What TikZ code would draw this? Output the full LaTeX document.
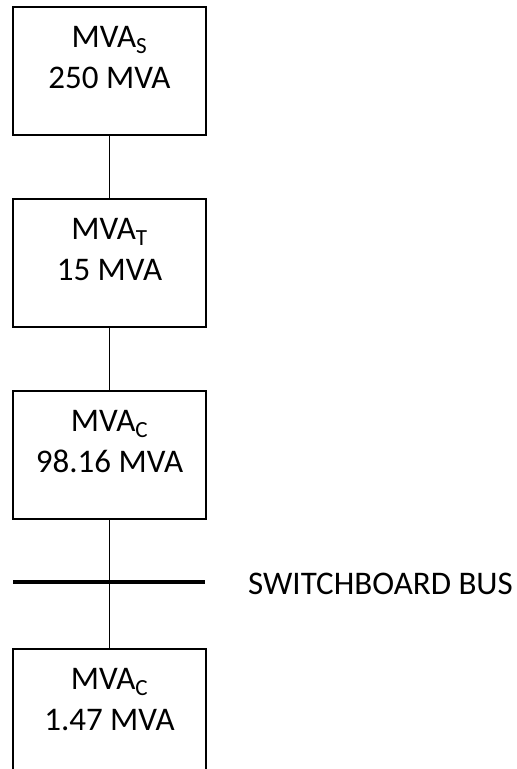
\documentclass[tikz,border=0pt]{standalone}
\usepackage{fontspec}
\setmainfont{Carlito}
\usetikzlibrary{positioning}
\definecolor{ink}{HTML}{000000}
\tikzset{
  unit/.style={draw=ink, line width=1.5pt, minimum width=193pt, minimum height=128pt, inner sep=0pt, outer sep=0pt},
  lab/.style={font=\fontsize{33}{41}\selectfont, text=ink, inner sep=0pt, align=center},
  wire/.style={draw=ink, line width=1.4pt},
  bus/.style={draw=ink, line width=4.5pt},
}
\begin{document}
\begin{tikzpicture}[x=1pt, y=-1pt, node distance=64pt]
  \clip (0,0) rectangle (517,769);
  % source, transformer, cable, motor
  \node[unit] (src) at (109.5,71) {};
  \node[unit, below=of src] (xfmr) {};
  \node[unit, below=of xfmr] (cbl) {};
  \node[unit, below=130pt of cbl] (load) {};
  \foreach \n/\t in {src/{MVA\textsubscript{S}\\250 MVA}, xfmr/{MVA\textsubscript{T}\\15 MVA},
                     cbl/{MVA\textsubscript{C}\\98.16 MVA}, load/{MVA\textsubscript{C}\\1.47 MVA}} {
    \node[lab, anchor=north, below=19pt of \n.north] (\n-txt) {\t};
  }
  % bus
  \coordinate (busw) at (13,582);
  \coordinate (buse) at (205,582);
  \draw[bus] (busw) -- (buse);
  \node[lab, anchor=base west] (bus-txt) at (248,594) {SWITCHBOARD BUS};
  \draw[wire] (src) -- (xfmr);
  \draw[wire] (xfmr) -- (cbl);
  \draw[wire] (cbl) -- (load);
\end{tikzpicture}
\end{document}
